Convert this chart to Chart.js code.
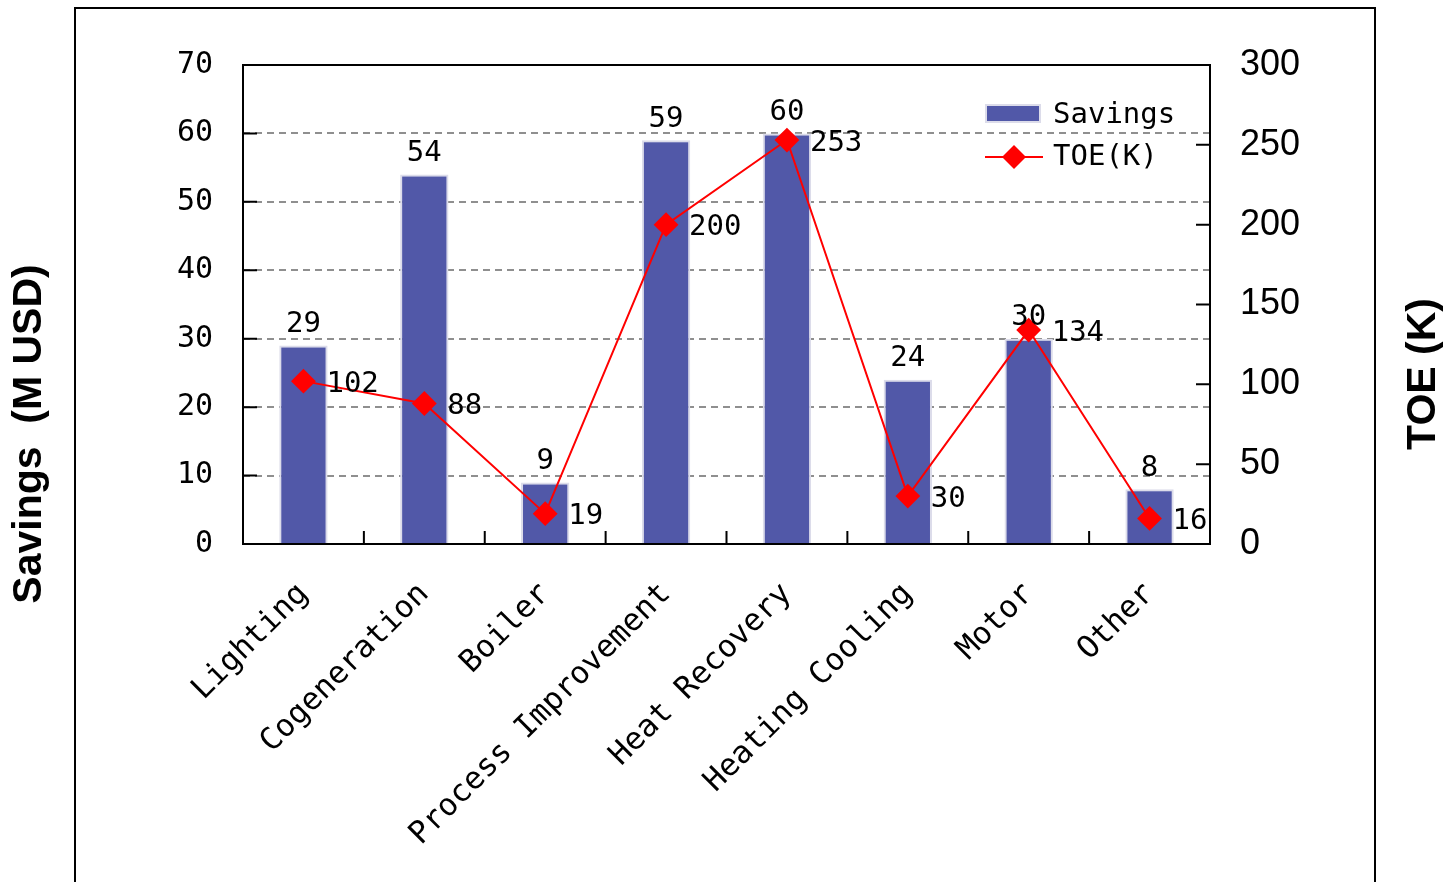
<!DOCTYPE html>
<html>
<head>
<meta charset="utf-8">
<script src="https://cdn.jsdelivr.net/npm/chart.js@4.4.1/dist/chart.umd.min.js"></script>
<style>
  html, body { margin: 0; padding: 0; background: #fff; }
</style>
</head>
<body>
<canvas id="chart" width="1449" height="882"></canvas>
<script>
const categories = ["Lighting", "Cogeneration", "Boiler", "Process Improvement", "Heat Recovery", "Heating Cooling", "Motor", "Other"];
const savings = [29, 54, 9, 59, 60, 24, 30, 8];
const toe = [102, 88, 19, 200, 253, 30, 134, 16];
const savingsTicks = [0, 10, 20, 30, 40, 50, 60, 70];
const toeTicks = [0, 50, 100, 150, 200, 250, 300];

const MONO = "'DejaVu Sans Mono', monospace";
const SANS = "'Liberation Sans', Arial, sans-serif";
const BAR = "#5158a8";

// frame, inner ticks, value labels, legend, axis titles
const decor = {
  id: "decor",
  beforeDraw(chart) {
    const c = chart.ctx;
    c.save();
    c.fillStyle = "#fff";
    c.fillRect(0, 0, chart.width, chart.height);
    c.strokeStyle = "#000";
    c.lineWidth = 2;
    c.strokeRect(75, 8, 1300, 900);
    c.restore();
  },
  afterDatasetsDraw(chart) {
    const c = chart.ctx;
    const a = chart.chartArea;
    const x = chart.scales.x, y = chart.scales.y, y1 = chart.scales.y1;
    c.save();
    c.strokeStyle = "#000";
    c.lineWidth = 2;
    c.strokeRect(a.left, a.top, a.right - a.left, a.bottom - a.top);

    // inward tick marks
    c.beginPath();
    savingsTicks.forEach(v => {
      const py = y.getPixelForValue(v);
      c.moveTo(a.left, py); c.lineTo(a.left + 14, py);
    });
    toeTicks.forEach(v => {
      const py = y1.getPixelForValue(v);
      c.moveTo(a.right, py); c.lineTo(a.right - 14, py);
    });
    for (let i = 1; i < categories.length; i++) {
      const px = (x.getPixelForValue(i - 1) + x.getPixelForValue(i)) / 2;
      c.moveTo(px, a.bottom); c.lineTo(px, a.bottom - 13);
    }
    c.stroke();

    // value labels
    c.fillStyle = "#000";
    c.font = "29px " + MONO;
    c.textAlign = "center";
    c.textBaseline = "middle";
    chart.getDatasetMeta(0).data.forEach((bar, i) => {
      c.fillText(String(savings[i]), bar.x, bar.y - 21);
    });
    c.textAlign = "left";
    chart.getDatasetMeta(1).data.forEach((pt, i) => {
      c.fillText(String(toe[i]), pt.x + 23, pt.y + 3);
    });

    // legend
    c.fillStyle = BAR;
    c.fillRect(986, 105, 54, 17);
    c.strokeStyle = "#dcdcea";
    c.lineWidth = 2;
    c.strokeRect(986, 105, 54, 17);
    c.strokeStyle = "#ff0000";
    c.beginPath(); c.moveTo(985, 157); c.lineTo(1043, 157); c.stroke();
    c.fillStyle = "#ff0000";
    c.beginPath();
    c.moveTo(1014, 145); c.lineTo(1026, 157); c.lineTo(1014, 169); c.lineTo(1002, 157);
    c.closePath(); c.fill();
    c.fillStyle = "#000";
    c.font = "29px " + MONO;
    c.textAlign = "left";
    c.fillText("Savings", 1053, 115);
    c.fillText("TOE(K)", 1053, 157);

    // axis titles
    c.font = "bold 41px " + SANS;
    c.textAlign = "center";
    c.save();
    c.translate(30, 434);
    c.rotate(-Math.PI / 2);
    c.fillText("Savings  (M USD)", 0, 0);
    c.restore();
    c.save();
    c.translate(1424, 374);
    c.rotate(-Math.PI / 2);
    c.fillText("TOE (K)", 0, 0);
    c.restore();
    c.restore();
  }
};

new Chart(document.getElementById("chart"), {
  data: {
    labels: categories,
    datasets: [
      {
        type: "bar",
        label: "Savings",
        data: savings,
        yAxisID: "y",
        backgroundColor: BAR,
        borderColor: "#dcdcea",
        borderWidth: 2,
        barPercentage: 0.4,
        categoryPercentage: 1,
        order: 1,
      },
      {
        type: "line",
        label: "TOE(K)",
        data: toe,
        yAxisID: "y1",
        borderColor: "#ff0000",
        backgroundColor: "#ff0000",
        borderWidth: 2,
        pointStyle: "rectRot",
        pointRadius: 11,
        pointHoverRadius: 11,
        tension: 0,
        order: 0,
      },
    ],
  },
  options: {
    responsive: false,
    animation: false,
    devicePixelRatio: 1,
    layout: { padding: { top: 65, left: 0, right: 0, bottom: 0 } },
    plugins: { legend: { display: false }, tooltip: { enabled: false } },
    scales: {
      x: {
        grid: { display: false },
        border: { display: false },
        ticks: {
          autoSkip: false,
          maxRotation: 45,
          minRotation: 45,
          padding: 24,
          color: "#000",
          font: { family: MONO, size: 31 },
        },
        afterFit: s => { s.height = 338; },
      },
      y: {
        position: "left",
        min: savingsTicks[0],
        max: savingsTicks[savingsTicks.length - 1],
        ticks: {
          stepSize: 10,
          padding: 30,
          color: "#000",
          font: { family: MONO, size: 30 },
        },
        grid: {
          drawTicks: false,
          lineWidth: 2,
          color: ctx => (ctx.tick && (ctx.tick.value === 0 || ctx.tick.value === 70)) ? "rgba(0,0,0,0)" : "#8f8f8f",
        },
        border: { display: false, dash: [7, 5] },
        afterFit: s => { s.width = 243; },
      },
      y1: {
        position: "right",
        min: toeTicks[0],
        max: toeTicks[toeTicks.length - 1],
        ticks: {
          stepSize: 50,
          padding: 30,
          color: "#000",
          font: { family: SANS, size: 36 },
        },
        grid: { display: false, drawTicks: false },
        border: { display: false },
        afterFit: s => { s.width = 239; },
      },
    },
  },
  plugins: [decor],
});
</script>
</body>
</html>
